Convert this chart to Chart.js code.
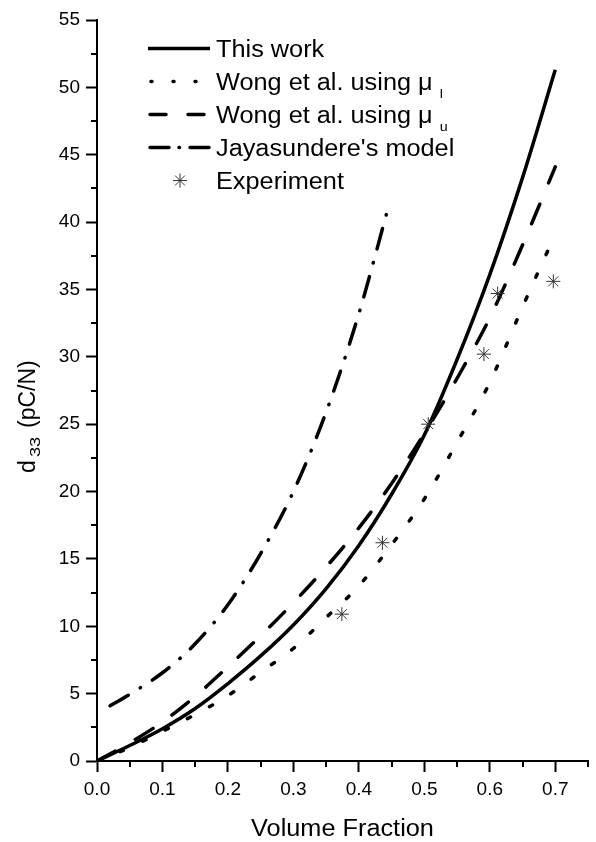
<!DOCTYPE html>
<html>
<head>
<meta charset="utf-8">
<script src="https://cdn.jsdelivr.net/npm/chart.js@4.4.1/dist/chart.umd.min.js"></script>
<style>
  html, body { margin: 0; padding: 0; background: #fff; }
  #wrap { position: relative; width: 596px; height: 842px; }
</style>
</head>
<body>
<div id="wrap"><canvas id="chart"></canvas></div>
<script>
// volume fraction grid shared by the three model curves
const volFrac = [0, 0.05, 0.1, 0.15, 0.2, 0.25, 0.3, 0.35, 0.4, 0.45, 0.5, 0.55, 0.6, 0.65, 0.7];
const thisWork = [0, 1.15, 2.4, 3.9, 5.75, 7.8, 10.1, 12.8, 16.0, 19.8, 24.2, 29.8, 36.1, 43.3, 51.3];
const wongLower = [0, 1.0, 2.2, 3.45, 4.85, 6.6, 8.35, 10.65, 13.0, 16.05, 19.45, 23.65, 28.1, 33.7, 39.1];
const wongUpper = [0, 1.35, 2.9, 4.8, 7.0, 9.3, 11.75, 14.4, 17.3, 20.6, 24.3, 28.4, 32.9, 38.3, 44.1];

// Jayasundere's model only covers a shorter range
const jayFrac = [0.02, 0.05, 0.1, 0.15, 0.2, 0.25, 0.3, 0.35, 0.4, 0.445];
const jayModel = [4.1, 4.95, 6.55, 8.7, 11.6, 15.4, 20.0, 25.9, 33.2, 41.1];

// measured points
const expFrac = [0.374, 0.436, 0.506, 0.591, 0.612, 0.697];
const expD33 = [10.9, 16.2, 25.0, 30.2, 34.7, 35.6];

// axes
const xTicks = [0, 0.1, 0.2, 0.3, 0.4, 0.5, 0.6, 0.7];
const xMinor = [0.05, 0.15, 0.25, 0.35, 0.45, 0.55, 0.65, 0.75];
const yTicks = [0, 5, 10, 15, 20, 25, 30, 35, 40, 45, 50, 55];
const yMinor = [2.5, 7.5, 12.5, 17.5, 22.5, 27.5, 32.5, 37.5, 42.5, 47.5, 52.5];

const FONT = "'Liberation Sans', Arial, sans-serif";

function pts(xs, ys) {
  return xs.map((x, i) => ({ x, y: ys[i] }));
}

const legendRows = [
  { text: "This work", dash: [], cap: "butt", x0: 148, x1: 210 },
  { text: "Wong et al. using \u03bc ", sub: "l", dash: [1, 21], cap: "round", x0: 151, x1: 210 },
  { text: "Wong et al. using \u03bc ", sub: "u", dash: [16, 22], cap: "round", x0: 150, x1: 208 },
  { text: "Jayasundere's model", dash: [19, 10, 0.5, 10.5], cap: "round", x0: 150, x1: 209 },
  { text: "Experiment", marker: true },
];

// minor ticks, axis titles and the legend (with subscripts)
const decor = {
  id: "decor",
  afterDraw(chart) {
    const ctx = chart.ctx;
    const xs = chart.scales.x;
    const ys = chart.scales.y;
    const area = chart.chartArea;
    ctx.save();
    ctx.strokeStyle = "#000";
    ctx.lineWidth = 2;
    ctx.beginPath();
    xMinor.forEach((v) => {
      const px = Math.round(xs.getPixelForValue(v));
      ctx.moveTo(px, area.bottom);
      ctx.lineTo(px, area.bottom + 6);
    });
    yMinor.forEach((v) => {
      const py = Math.round(ys.getPixelForValue(v));
      ctx.moveTo(area.left - 6, py);
      ctx.lineTo(area.left, py);
    });
    ctx.stroke();

    ctx.fillStyle = "#000";
    // x title
    ctx.save();
    ctx.font = "23px " + FONT;
    ctx.textAlign = "center";
    ctx.textBaseline = "alphabetic";
    ctx.translate((area.left + area.right) / 2, 836);
    ctx.scale(1.1, 1);
    ctx.fillText("Volume Fraction", 0, 0);
    ctx.restore();

    // y title: d33 (pC/N), rotated
    ctx.save();
    ctx.translate(35, 473);
    ctx.rotate(-Math.PI / 2);
    ctx.textAlign = "left";
    ctx.textBaseline = "alphabetic";
    ctx.font = "23px " + FONT;
    ctx.fillText("d", 0, 0);
    ctx.save();
    ctx.translate(16, 5);
    ctx.scale(1.3, 1);
    ctx.font = "14px " + FONT;
    ctx.fillText("33", 0, 0);
    ctx.restore();
    ctx.fillText("(pC/N)", 45, 0);
    ctx.restore();

    // legend
    legendRows.forEach((row, i) => {
      const base = 57 + i * 33;
      const ly = base - 8.5;
      if (row.marker) {
        ctx.save();
        ctx.strokeStyle = "#333";
        ctx.lineWidth = 1;
        Chart.helpers.drawPoint(ctx, { pointStyle: "star", radius: 7, borderWidth: 1, rotation: 0 }, 180, ly);
        ctx.restore();
      } else {
        ctx.save();
        ctx.lineWidth = 3.5;
        ctx.lineCap = row.cap;
        ctx.setLineDash(row.dash);
        ctx.beginPath();
        ctx.moveTo(row.x0, ly);
        ctx.lineTo(row.x1, ly);
        ctx.stroke();
        ctx.restore();
      }
      ctx.save();
      ctx.translate(216, base);
      ctx.scale(1.1, 1);
      ctx.font = "23px " + FONT;
      ctx.fillText(row.text, 0, 0);
      if (row.sub) {
        const w = ctx.measureText(row.text).width;
        ctx.font = "13px " + FONT;
        ctx.fillText(row.sub, w, 8);
      }
      ctx.restore();
    });
    ctx.restore();
  },
};

const lineBase = {
  borderColor: "#000",
  borderWidth: 3.5,
  pointRadius: 0,
  fill: false,
  cubicInterpolationMode: "monotone",
};

new Chart(document.getElementById("chart"), {
  type: "line",
  data: {
    datasets: [
      {
        label: "Experiment",
        data: pts(expFrac, expD33),
        showLine: false,
        pointStyle: "star",
        pointRadius: 7,
        pointBorderWidth: 1,
        pointBorderColor: "#333",
        borderColor: "#333",
      },
      { ...lineBase, label: "This work", data: pts(volFrac, thisWork) },
      {
        ...lineBase,
        label: "Wong et al. using \u03bc l",
        data: pts(volFrac, wongLower),
        borderDash: [3.5, 21.5],
        borderCapStyle: "round",
      },
      {
        ...lineBase,
        label: "Wong et al. using \u03bc u",
        data: pts(volFrac, wongUpper),
        borderDash: [21, 23],
        borderCapStyle: "round",
      },
      {
        ...lineBase,
        label: "Jayasundere's model",
        data: pts(jayFrac, jayModel),
        borderDash: [21, 14, 0.5, 14],
        borderCapStyle: "round",
      },
    ],
  },
  options: {
    responsive: true,
    maintainAspectRatio: false,
    animation: false,
    layout: { padding: { top: 20, right: 5, left: 0, bottom: 0 } },
    plugins: {
      legend: { display: false },
      tooltip: { enabled: false },
    },
    scales: {
      x: {
        type: "linear",
        min: 0,
        max: 0.75,
        afterBuildTicks: (s) => { s.ticks = xTicks.map((v) => ({ value: v })); },
        afterFit: (s) => { s.height = 81; },
        ticks: {
          color: "#000",
          font: { family: FONT, size: 19 },
          padding: 6,
          maxRotation: 0,
          callback: (v) => Number(v).toFixed(1),
        },
        grid: { drawOnChartArea: false, tickLength: 11, tickColor: "#000", tickWidth: 2 },
        border: { display: true, color: "#000", width: 2 },
      },
      y: {
        type: "linear",
        min: 0,
        max: 55,
        afterBuildTicks: (s) => { s.ticks = yTicks.map((v) => ({ value: v })); },
        afterFit: (s) => { s.width = 97; },
        ticks: {
          color: "#000",
          font: { family: FONT, size: 19 },
          padding: 6,
          callback: (v) => String(v),
        },
        grid: { drawOnChartArea: false, tickLength: 11, tickColor: "#000", tickWidth: 2 },
        border: { display: true, color: "#000", width: 2 },
      },
    },
  },
  plugins: [decor],
});
</script>
</body>
</html>
